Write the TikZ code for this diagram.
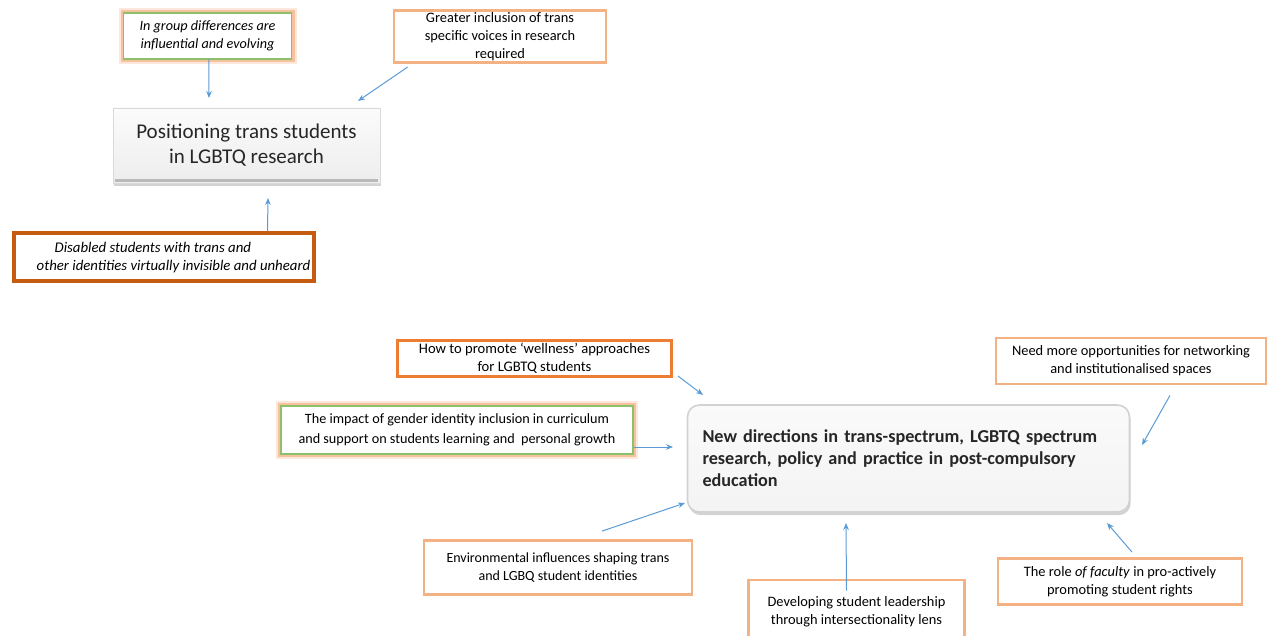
\documentclass[tikz,border=0pt]{standalone}
\usepackage{fontspec}
\setmainfont{Carlito}
\usetikzlibrary{arrows.meta, shadows}
\definecolor{peach}{HTML}{F4B183}
\definecolor{brightorange}{HTML}{ED7D31}
\definecolor{rust}{HTML}{C55A11}
\definecolor{leafgreen}{HTML}{8CC06A}
\definecolor{linkblue}{HTML}{5B9BD5}

\begin{document}
\begin{tikzpicture}[x=0.5pt, y=-0.5pt, >={Stealth[length=3.5pt, width=2.8pt]},
  note/.style={draw=peach, line width=1.4pt, fill=white, align=center, inner sep=1pt,
    font=\fontsize{7.2}{9}\selectfont},
  glownote/.style={note, draw=leafgreen, line width=0.7pt,
    preaction={draw=peach, line width=5pt, opacity=0.3},
    preaction={draw=peach, line width=3pt, opacity=0.7}},
  theme/.style={align=center, font=\fontsize{10.5}{12.5}\selectfont, text=black!85,
    draw=gray!30, top color=gray!3, bottom color=gray!14,
    drop shadow={shadow xshift=0.6pt, shadow yshift=-1.6pt, opacity=0.35}},
  arr/.style={->, draw=linkblue, line width=0.5pt}]
  \useasboundingbox (0,0) rectangle (1270,636);

  % upper cluster
  \node[theme, minimum width=133.5pt, minimum height=37.5pt] (pos) at (246.5,145.5)
    {Positioning trans students\\in LGBTQ research};
  \draw[gray!55, line width=1.2pt] ([xshift=1pt, yshift=1.4pt]pos.south west) -- ([xshift=-1pt, yshift=1.4pt]pos.south east);
  \node[glownote, minimum width=84pt, minimum height=23pt, font=\fontsize{7.1}{9}\selectfont\itshape] (ingroup) at (207.5,36)
    {In group differences are\\influential and evolving};
  \node[note, minimum width=106pt, minimum height=26pt] (voices) at (500,36.5)
    {Greater inclusion of trans\\specific voices in research\\required};
  \node[note, draw=rust, line width=2pt, minimum width=150pt, minimum height=24pt,
    font=\fontsize{7.4}{9}\selectfont\itshape, align=left] (disabled) at (163.5,257.5)
    {\hspace*{19pt}Disabled students with trans and\\\hspace*{10pt}other identities virtually invisible and unheard};

  \coordinate (t1) at (209,98);
  \coordinate (t2) at (358,101);
  \coordinate (t3) at (268,198);
  \draw[arr] ([xshift=0.7pt]ingroup.south) -- (t1);
  \draw[arr] ([xshift=7.5pt, yshift=-1.5pt]voices.south west) -- (t2);
  \draw[arr] ([xshift=52pt]disabled.north) -- (t3);

  % lower cluster
  \node[theme, rounded corners=6pt, draw=gray!35, line width=0.8pt, top color=gray!4, bottom color=gray!9,
    font=\fontsize{9.1}{11}\selectfont\bfseries, align=left, text width=206pt, inner xsep=7.5pt,
    minimum height=53.5pt] (newdir) at (908.5,458.5)
    {New directions in trans-spectrum, LGBTQ spectrum\\research, policy and practice in post-compulsory\\education};
  \node[note, draw=brightorange, line width=1.5pt, minimum width=137pt, minimum height=18pt,
    font=\fontsize{7.3}{9}\selectfont] (wellness) at (534.5,358.5)
    {How to promote ‘wellness’ approaches\\for LGBTQ students};
  \node[glownote, minimum width=176pt, minimum height=24pt, font=\fontsize{7.1}{10}\selectfont] (impact) at (457,430)
    {The impact of gender identity inclusion in curriculum\\and support on students learning and\ \ personal growth};
  \node[note, minimum width=135pt, minimum height=23pt] (network) at (1131,361)
    {Need more opportunities for networking\\and institutionalised spaces};
  \node[note, minimum width=134pt, minimum height=27pt, font=\fontsize{7}{9}\selectfont] (environ) at (558,567.5)
    {Environmental influences shaping trans\\and LGBQ student identities};
  \node[note, minimum width=108pt, minimum height=32pt] (leader) at (856.5,612)
    {Developing student leadership\\through intersectionality lens};
  \node[note, minimum width=122pt, minimum height=23pt] (faculty) at (1120,581.5)
    {The role \textit{of faculty} in pro-actively\\promoting student rights};

  \coordinate (t4) at (703,395);
  \coordinate (t5) at (673,447);
  \coordinate (t6) at (685,503);
  \coordinate (t7) at (846,523);
  \coordinate (t8) at (1107,523);
  \coordinate (t9) at (1142,445);
  \draw[arr] ([xshift=2.5pt, yshift=1pt]wellness.south east) -- (t4);
  \draw[arr] ([yshift=-8.5pt]impact.east) -- (t5);
  \draw[arr] ([xshift=22pt, yshift=4pt]environ.north) -- (t6);
  \draw[arr] ([xshift=-5pt, yshift=-6pt]leader.north) -- (t7);
  \draw[arr] ([xshift=6pt, yshift=2.5pt]faculty.north) -- (t8);
  \draw[arr] ([xshift=19.5pt, yshift=-5pt]network.south) -- (t9);
\end{tikzpicture}
\end{document}
